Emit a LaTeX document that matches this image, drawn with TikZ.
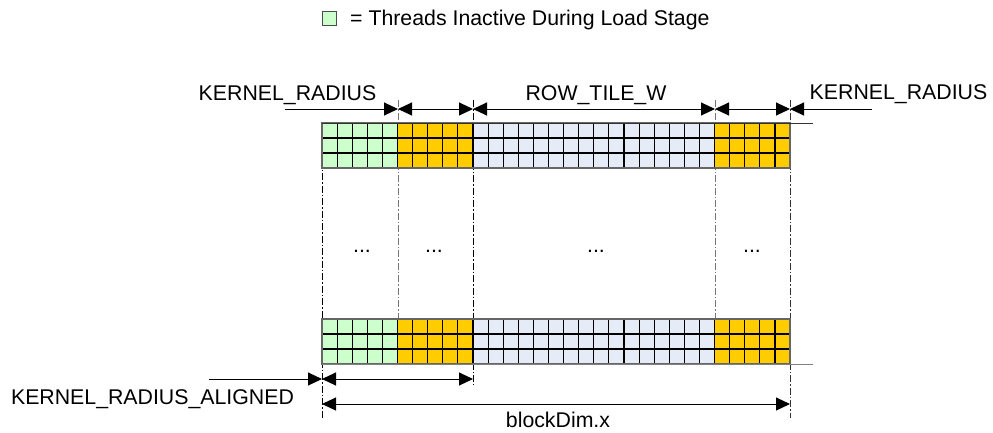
\documentclass[tikz,border=0pt]{standalone}
\usepackage{fontspec}
\setmainfont{Liberation Sans}
\usetikzlibrary{arrows.meta}

\definecolor{inactive}{HTML}{CCFFCC}
\definecolor{apron}{HTML}{FFCC00}
\definecolor{tile}{HTML}{E6ECF7}
\definecolor{guidegray}{HTML}{777777}

\tikzset{
  lbl/.style={inner sep=0pt, anchor=base, font=\fontsize{21.3}{25}\selectfont},
  dimline/.style={line width=1pt, black},
  tipend/.style={dimline, -{Triangle[length=14pt,width=13pt]}},
  tipboth/.style={dimline, {Triangle[length=14pt,width=13pt]}-{Triangle[length=14pt,width=13pt]}},
  guide/.style={line width=1pt, dash pattern=on 7pt off 2pt on 1.5pt off 2pt},
  cellline/.style={line width=1.1pt, black},
  border/.style={line width=1.4pt, black!60},
}

% one band of 31 x 3 thread cells whose top edge is at y = #1
\newcommand\threadband[1]{%
  \fill[inactive] (322,#1) rectangle ++(5*15.1,45);
  \fill[apron]    (322+5*15.1,#1) rectangle ++(5*15.1,45);
  \fill[tile]     (322+10*15.1,#1) rectangle ++(16*15.1,45);
  \fill[apron]    (322+26*15.1,#1) rectangle ++(5*15.1,45);
  \foreach \k in {1,...,30} \draw[cellline] (322+\k*15.1,#1) -- ++(0,45);
  \foreach \r in {15,30} \draw[cellline] (322,#1+\r) -- ++(31*15.1,0);
  \draw[border] (322,#1) rectangle ++(31*15.1,45);
}

\begin{document}
\begin{tikzpicture}[x=1pt,y=-1pt]
\useasboundingbox (0,0) rectangle (993,432);

% legend
\node[draw=black!70, line width=0.8pt, fill=inactive, minimum size=14pt, inner sep=0pt] (legendbox) at (329.5,18.5) {};
\node[lbl, anchor=base west] (legendtext) at (350,25) {= Threads Inactive During Load Stage};

% dash-dot guide lines
\draw[guide, black]     (322,123) -- (322,418);
\draw[guide, guidegray] (398,100) -- (398,364);
\draw[guide, black]     (473,100) -- (473,385);
\draw[guide, guidegray] (715,100) -- (715,364);
\draw[guide, black!80]  (790,100) -- (790,418);

% thread blocks, top and bottom rows
\threadband{123}
\draw[line width=1pt, black!80] (322,123) -- (813,123);
\threadband{319}
\draw[line width=1pt, black!50] (322,364) -- (813,364);

% ellipses between the two rows
\node[lbl] (dotsA) at (362,252) {...};
\node[lbl] (dotsB) at (434,252) {...};
\node[lbl] (dotsC) at (596,252) {...};
\node[lbl] (dotsD) at (752,252) {...};

% dimension anchors
\coordinate (kL) at (285,109);
\coordinate (d1) at (398,109);
\coordinate (d2) at (473,109);
\coordinate (d3) at (715,109);
\coordinate (d4) at (790,109);
\coordinate (kR) at (872,109);
\coordinate (aL) at (209,379);
\coordinate (a0) at (322,379);
\coordinate (a1) at (473,379);
\coordinate (b0) at (322,404);
\coordinate (b1) at (790,404);

% top dimensions
\draw[tipend]  (kL) -- (d1);
\draw[tipboth] (d1) -- (d2);
\draw[tipboth] (d2) -- (d3);
\draw[tipboth] (d3) -- (d4);
\draw[tipend]  (kR) -- (d4);

% bottom dimensions
\draw[tipend]  (aL) -- (a0);
\draw[tipboth] (a0) -- (a1);
\draw[tipboth] (b0) -- (b1);

% labels
\node[lbl] (radL)  at (287.5,100) {KERNEL\_RADIUS};
\node[lbl] (tileW) at (596,100) {ROW\_TILE\_W};
\node[lbl] (radR)  at (898.5,99) {KERNEL\_RADIUS};
\node[lbl] (radA)  at (152.5,404) {KERNEL\_RADIUS\_ALIGNED};
\node[lbl] (bdim)  at (558,427) {blockDim.x};
\end{tikzpicture}
\end{document}
